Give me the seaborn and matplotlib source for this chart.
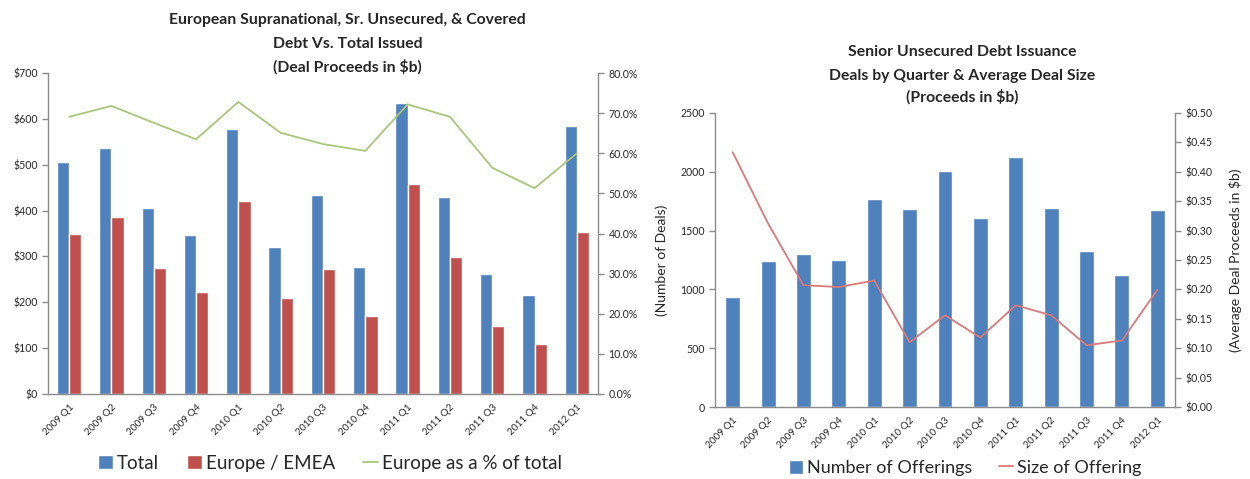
import numpy as np
import pandas as pd
import matplotlib
matplotlib.use("Agg")
import matplotlib.pyplot as plt
from matplotlib.patches import Patch
from matplotlib.lines import Line2D
from matplotlib.ticker import FuncFormatter, MultipleLocator, FixedLocator
import seaborn as sns

quarters = ["2009 Q1", "2009 Q2", "2009 Q3", "2009 Q4", "2010 Q1", "2010 Q2", "2010 Q3",
            "2010 Q4", "2011 Q1", "2011 Q2", "2011 Q3", "2011 Q4", "2012 Q1"]
total = [505, 536, 406, 347, 579, 321, 435, 278, 635, 430, 262, 215, 585]
europe = [350, 386, 275, 222, 421, 210, 272, 169, 459, 298, 148, 110, 354]
europe_pct = [69.1, 71.8, 67.6, 63.5, 72.8, 65.1, 62.3, 60.6, 72.2, 69.1, 56.4, 51.3, 60.0]

offerings = [931, 1240, 1302, 1251, 1767, 1685, 2002, 1608, 2121, 1693, 1322, 1121, 1673]
offer_size = [0.433, 0.312, 0.207, 0.204, 0.215, 0.110, 0.156, 0.118, 0.173, 0.156, 0.105, 0.113, 0.199]

BLUE = "#4F81BD"
RED = "#C0504D"
GREEN = "#A9C77A"
LRED = "#D9797A"
SPINE = "#8C8C8C"
TXT = "#262626"

sns.set_theme(style="white")
plt.rcParams["font.family"] = ["Lato", "DejaVu Sans"]

fig = plt.figure(figsize=(12.5, 4.79), dpi=100)

def style_axes(ax, ax2):
    for a in (ax, ax2):
        for s in a.spines.values():
            s.set_visible(False)
    ax.spines["left"].set_visible(True)
    ax.spines["bottom"].set_visible(True)
    ax2.spines["right"].set_visible(True)
    for a, side in ((ax, "left"), (ax, "bottom"), (ax2, "right")):
        a.spines[side].set_color(SPINE)
        a.spines[side].set_linewidth(1.0)
    n = len(quarters)
    ax.set_xlim(-0.5, n - 0.5)
    ax.xaxis.set_major_locator(FixedLocator(np.arange(n)))
    ax.xaxis.set_minor_locator(FixedLocator(np.arange(-0.5, n, 1.0)))
    ax.set_xticklabels(quarters, rotation=45, ha="right", rotation_mode="anchor",
                       fontsize=7.2, color=TXT)
    ax.tick_params(axis="x", which="major", length=0, pad=6)
    ax.tick_params(axis="x", which="minor", length=4, color=SPINE, width=1, direction="out")
    ax.tick_params(axis="y", length=4, color=SPINE, width=1, direction="out",
                   labelsize=7.6, labelcolor=TXT, left=True)
    ax2.tick_params(axis="y", length=4, color=SPINE, width=1, direction="out",
                    labelsize=7.6, labelcolor=TXT, right=True)
    ax.set_xlabel("")
    ax.grid(False)
    ax2.grid(False)

# ---------- Left chart ----------
axL = fig.add_axes([0.0384, 0.1775, 0.44, 0.670])
dfL = pd.DataFrame({
    "quarter": quarters * 2,
    "value": total + europe,
    "series": ["Total"] * len(quarters) + ["Europe / EMEA"] * len(quarters),
})
sns.barplot(data=dfL, x="quarter", y="value", hue="series", palette=[BLUE, RED],
            width=0.58, ax=axL, legend=False, saturation=1.0)
axL.set_ylim(0, 700)
axL.yaxis.set_major_locator(MultipleLocator(100))
axL.yaxis.set_major_formatter(FuncFormatter(lambda v, p: f"${v:.0f}"))
axL.set_ylabel("")
axL2 = axL.twinx()
sns.lineplot(x=np.arange(len(quarters)), y=europe_pct, ax=axL2, color=GREEN, linewidth=1.3)
axL2.set_ylim(0, 80)
axL2.yaxis.set_major_locator(MultipleLocator(10))
axL2.yaxis.set_major_formatter(FuncFormatter(lambda v, p: f"{v:.1f}%"))
axL2.set_ylabel("")
style_axes(axL, axL2)

fig.text(0.278, 0.958, "European Supranational, Sr. Unsecured, & Covered", ha="center",
         va="center", fontsize=11.3, fontweight="bold", color=TXT)
fig.text(0.278, 0.909, "Debt Vs. Total Issued", ha="center",
         va="center", fontsize=11.3, fontweight="bold", color=TXT)
fig.text(0.278, 0.860, "(Deal Proceeds in $b)", ha="center",
         va="center", fontsize=11.3, fontweight="bold", color=TXT)

handlesL = [Patch(facecolor=BLUE, label="Total"),
            Patch(facecolor=RED, label="Europe / EMEA"),
            Line2D([0], [0], color=GREEN, lw=1.3, label="Europe as a % of total")]
fig.legend(handles=handlesL, loc="center", bbox_to_anchor=(0.264, 0.033), ncol=3,
           frameon=False, fontsize=13.5, handlelength=0.8, handleheight=0.8,
           handletextpad=0.2, columnspacing=1.5, labelcolor=TXT)

# ---------- Right chart ----------
axR = fig.add_axes([0.572, 0.1503, 0.368, 0.614])
dfR = pd.DataFrame({"quarter": quarters, "value": offerings})
sns.barplot(data=dfR, x="quarter", y="value", color=BLUE, width=0.42, ax=axR,
            saturation=1.0)
axR.set_ylim(0, 2500)
axR.yaxis.set_major_locator(MultipleLocator(500))
axR.set_ylabel("(Number of Deals)", fontsize=10, color=TXT, labelpad=9)
axR2 = axR.twinx()
sns.lineplot(x=np.arange(len(quarters)), y=offer_size, ax=axR2, color=LRED, linewidth=1.3)
axR2.set_ylim(0, 0.5)
axR2.yaxis.set_major_locator(MultipleLocator(0.05))
axR2.yaxis.set_major_formatter(FuncFormatter(lambda v, p: f"${v:.2f}"))
axR2.set_ylabel("(Average Deal Proceeds in $b)", fontsize=10, color=TXT, labelpad=12,
                rotation=90)
style_axes(axR, axR2)

fig.text(0.770, 0.891, "Senior Unsecured Debt Issuance", ha="center",
         va="center", fontsize=11.3, fontweight="bold", color=TXT)
fig.text(0.770, 0.842, "Deals by Quarter & Average Deal Size", ha="center",
         va="center", fontsize=11.3, fontweight="bold", color=TXT)
fig.text(0.770, 0.797, "(Proceeds in $b)", ha="center",
         va="center", fontsize=11.3, fontweight="bold", color=TXT)

handlesR = [Patch(facecolor=BLUE, label="Number of Offerings"),
            Line2D([0], [0], color=LRED, lw=1.3, label="Size of Offering")]
fig.legend(handles=handlesR, loc="center", bbox_to_anchor=(0.772, 0.023), ncol=2,
           frameon=False, fontsize=13, handlelength=0.8, handleheight=0.8,
           handletextpad=0.2, columnspacing=1.5, labelcolor=TXT)

fig.savefig("out.png", dpi=100)
